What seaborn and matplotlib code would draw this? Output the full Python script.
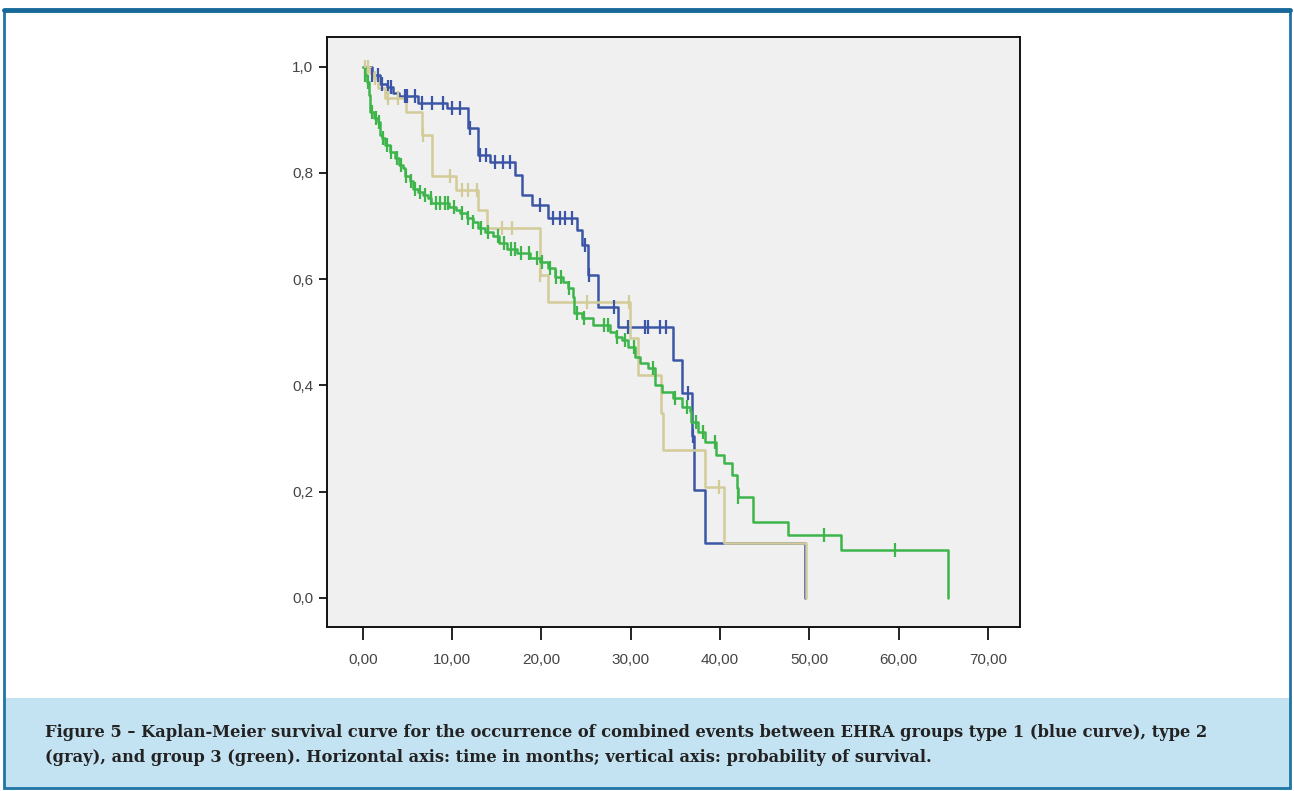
import numpy as np
import pandas as pd
import matplotlib
matplotlib.use("Agg")
import matplotlib.pyplot as plt
import seaborn as sns
from matplotlib.patches import Rectangle

# ---------------- data ----------------
blue_t = [0.0, 1.0, 1.9, 2.7, 3.4, 4.1, 6.2, 9.4, 11.8, 12.9, 14.2, 17.0, 17.8, 18.9,
          20.7, 24.0, 24.5, 25.2, 26.3, 28.6, 34.7, 35.7, 36.9, 37.1, 38.3, 49.5]
blue_s = [1.0, 0.985, 0.968, 0.962, 0.951, 0.945, 0.932, 0.922, 0.885, 0.834, 0.820, 0.797,
          0.759, 0.740, 0.716, 0.693, 0.665, 0.608, 0.548, 0.510, 0.448, 0.386, 0.305,
          0.203, 0.103, 0.0]
blue_c = [1.0, 1.7, 2.2, 2.8, 3.2, 4.7, 5.0, 5.8, 6.6, 7.8, 9.0, 10.0, 10.9, 12.0, 13.1,
          13.8, 14.8, 15.7, 16.5, 19.8, 21.3, 22.1, 22.7, 23.4, 24.9, 25.3, 28.1, 29.7,
          31.6, 31.9, 33.3, 34.0, 36.4, 37.0]

gray_t = [0.0, 0.8, 1.1, 1.7, 2.5, 4.9, 6.6, 7.8, 10.5, 12.9, 13.9, 19.8, 20.7, 29.9,
          30.8, 33.4, 33.6, 38.3, 40.5, 49.6]
gray_s = [1.0, 0.989, 0.979, 0.960, 0.942, 0.915, 0.872, 0.795, 0.768, 0.731, 0.697,
          0.608, 0.557, 0.490, 0.420, 0.348, 0.279, 0.209, 0.104, 0.0]
gray_c = [0.3, 0.6, 1.4, 2.8, 3.9, 6.7, 9.8, 11.1, 11.8, 12.8, 15.6, 16.7, 19.9, 25.1,
          29.8, 39.9]

green_t = [0.0, 0.2, 0.45, 0.7, 0.8, 1.3, 1.7, 1.9, 2.2, 2.5, 3.0, 3.6, 4.1, 4.5, 4.7,
           5.3, 5.6, 6.2, 6.8, 7.3, 7.7, 9.7, 10.4, 10.9, 11.7, 12.3, 12.9, 13.7, 14.6,
           15.3, 16.1, 17.3, 18.7, 19.8, 20.7, 21.5, 22.4, 23.0, 23.5, 23.7, 24.6, 25.8,
           27.7, 28.4, 29.0, 29.7, 30.5, 31.0, 31.9, 32.7, 33.5, 34.7, 35.7, 36.6, 36.8,
           37.5, 38.3, 39.6, 40.5, 41.4, 41.9, 42.0, 43.7, 47.6, 53.6, 65.5]
green_s = [1.0, 0.985, 0.972, 0.947, 0.915, 0.904, 0.896, 0.872, 0.866, 0.853, 0.840,
           0.829, 0.815, 0.810, 0.795, 0.785, 0.770, 0.765, 0.759, 0.753, 0.744, 0.736,
           0.731, 0.725, 0.716, 0.708, 0.697, 0.689, 0.682, 0.669, 0.657, 0.650, 0.640,
           0.633, 0.621, 0.605, 0.595, 0.584, 0.567, 0.537, 0.527, 0.514, 0.501, 0.492,
           0.486, 0.473, 0.454, 0.443, 0.433, 0.401, 0.388, 0.377, 0.360, 0.352, 0.331,
           0.313, 0.294, 0.269, 0.254, 0.232, 0.207, 0.190, 0.143, 0.119, 0.090, 0.0]
green_c = [0.3, 0.6, 1.0, 1.5, 1.8, 2.3, 2.7, 3.2, 3.8, 4.3, 4.9, 5.4, 5.9, 6.4, 7.0,
           7.6, 8.2, 8.7, 9.2, 9.6, 10.2, 11.1, 11.8, 12.4, 13.2, 14.0, 15.1, 15.8, 16.6,
           17.1, 17.7, 18.6, 19.5, 20.1, 21.0, 21.6, 22.2, 23.1, 24.0, 24.8, 27.0, 27.5,
           28.5, 29.4, 30.4, 32.5, 35.0, 36.3, 37.3, 38.1, 39.5, 42.0, 51.7, 59.6]

x_ticks = [0, 10, 20, 30, 40, 50, 60, 70]
x_labels = ["0,00", "10,00", "20,00", "30,00", "40,00", "50,00", "60,00", "70,00"]
y_ticks = [0.0, 0.2, 0.4, 0.6, 0.8, 1.0]
y_labels = ["0,0", "0,2", "0,4", "0,6", "0,8", "1,0"]

caption = ("Figure 5 \u2013 Kaplan-Meier survival curve for the occurrence of combined events "
           "between EHRA groups type 1 (blue curve), type 2\n(gray), and group 3 (green). "
           "Horizontal axis: time in months; vertical axis: probability of survival.")

groups = [("type 1", blue_t, blue_s, blue_c, "#3b56a6"),
          ("type 2", gray_t, gray_s, gray_c, "#d3cc99"),
          ("group 3", green_t, green_s, green_c, "#3db54b")]

# ---------------- figure ----------------
sns.set_style("white")
plt.rcParams["font.family"] = ["Liberation Sans Narrow", "Liberation Sans", "DejaVu Sans"]

fig = plt.figure(figsize=(12.94, 7.91), dpi=100)
fig.patch.set_facecolor("white")

# caption band and outer frame
fig.patches.append(Rectangle((0.003, 1 - 788 / 791), 0.994, (788 - 698) / 791,
                             transform=fig.transFigure, facecolor="#c3e2f2",
                             edgecolor="none", zorder=0))
fig.patches.append(Rectangle((0.003, 1 - 788 / 791), 0.994, (788 - 10) / 791,
                             transform=fig.transFigure, facecolor="none",
                             edgecolor="#1f74a6", linewidth=2.0, zorder=1))
fig.lines.append(plt.Line2D([0.003, 0.997], [1 - 10 / 791, 1 - 10 / 791],
                            transform=fig.transFigure, color="#17699a", linewidth=3.5))

ax = fig.add_axes([327 / 1294, 1 - 627 / 791, 693 / 1294, 590 / 791])
ax.set_facecolor("#f0f0f0")

for name, t, s, c, col in groups:
    df = pd.DataFrame({"t": t, "s": s})
    sns.lineplot(data=df, x="t", y="s", ax=ax, color=col, linewidth=1.8,
                 drawstyle="steps-post", estimator=None, sort=False, legend=False)
    tt = np.asarray(t)
    ss = np.asarray(s)
    idx = np.searchsorted(tt, np.asarray(c), side="right") - 1
    cdf = pd.DataFrame({"t": c, "s": ss[idx]})
    sns.scatterplot(data=cdf, x="t", y="s", ax=ax, marker="|", s=110,
                    color=col, linewidth=1.6, legend=False, zorder=3)

ax.set_xlim(-4.0, 73.6)
ax.set_ylim(-0.055, 1.056)
ax.set_xticks(x_ticks)
ax.set_xticklabels(x_labels)
ax.set_yticks(y_ticks)
ax.set_yticklabels(y_labels)
ax.set_xlabel("")
ax.set_ylabel("")
for sp in ax.spines.values():
    sp.set_visible(True)
    sp.set_color("#111111")
    sp.set_linewidth(1.4)
ax.tick_params(axis="both", which="major", direction="out", color="#222222",
               labelcolor="#444444", labelsize=11, width=1.4, bottom=True, left=True)
ax.tick_params(axis="y", length=6, pad=4)
ax.tick_params(axis="x", length=9, pad=10)
ax.grid(False)

fig.text(45 / 1294, 1 - 745 / 791, caption, ha="left", va="center",
         fontsize=11.7, fontweight="bold", color="#222222",
         family=["DejaVu Serif"], linespacing=1.6)

fig.savefig("out.png", dpi=100)
